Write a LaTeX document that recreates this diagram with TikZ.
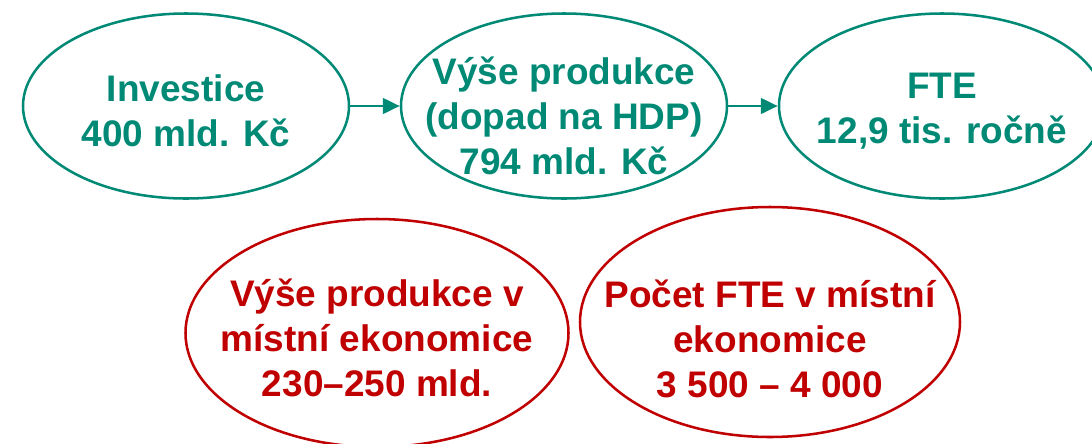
\documentclass[tikz,border=0pt]{standalone}
\usepackage{fontspec}
\setmainfont{Liberation Sans}
\definecolor{darkteal}{RGB}{0,137,117}
\definecolor{darkred}{RGB}{192,0,0}
\usetikzlibrary{arrows.meta}
\usetikzlibrary{positioning}
\usetikzlibrary{shapes}
\tikzset{
  oval/.style={ellipse, draw, line width=1.8pt, inner sep=0,
    minimum width=8.15cm, minimum height=4.625cm},
  ovaltext/.style={align=center, inner sep=0, yshift=-0.12cm,
    font=\bfseries\fontsize{26.3}{31.8}\selectfont},
  arrow/.style={->, line width=2.1pt, darkteal}
}
\begin{document}
\begin{tikzpicture}[>={Triangle[length=12pt,width=11pt]}, node distance=9.45cm]

    \useasboundingbox (0,0) rectangle (27.3,-11.075);
    \node [oval, darkteal] (inv) at (4.65,-2.65) {};
    \node [right of=inv, oval, darkteal] (prod) {};
    \node [right of=prod, oval, darkteal] (fte) {};
    \node [oval, darkred, minimum width=9.575cm, minimum height=5.7cm]
          (prodloc) at (9.425,-8.325) {};
    \node [oval, darkred, minimum width=9.5cm, minimum height=5.75cm]
          (fteloc) at (19.25,-8.05) {};

    \node [ovaltext, darkteal] (inv-t) at (inv) {Investice\\400 mld. Kč};
    \node [ovaltext, darkteal, yshift=-0.13cm] (prod-t) at (prod)
          {Výše produkce\\(dopad na HDP)\\794 mld. Kč};
    \node [ovaltext, darkteal] (fte-t) at (fte) {FTE\\12,9 tis. ročně};
    \node [ovaltext, darkred] (prodloc-t) at (prodloc)
          {Výše produkce v\\místní ekonomice\\230–250 mld.};
    \node [ovaltext, darkred, yshift=-0.3cm] (fteloc-t) at (fteloc)
          {Počet FTE v místní\\ekonomice\\3 500 – 4 000};

    \path (inv) edge [arrow] (prod)
          (prod) edge [arrow] (fte);
\end{tikzpicture}
\end{document}
